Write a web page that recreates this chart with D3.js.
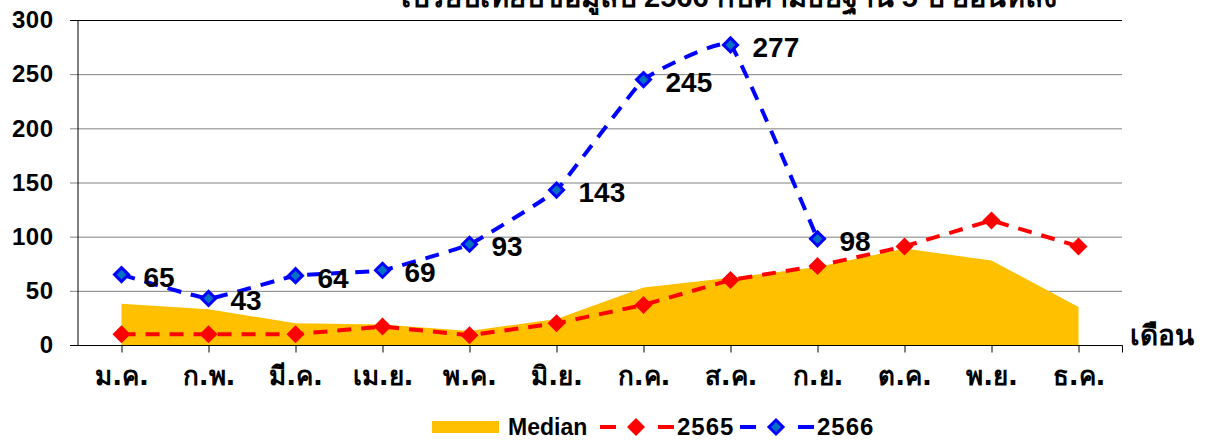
<!DOCTYPE html>
<html>
<head>
<meta charset="utf-8">
<script src="https://cdn.jsdelivr.net/npm/d3@7"></script>
<style>
  body { margin: 0; background: #fff; }
  svg { font-family: Arial, "Liberation Sans", "Noto Sans", sans-serif; font-weight: bold; }
</style>
</head>
<body>
<svg id="chart" width="1211" height="447"></svg>
<script>
var WIDTH = 1211;
var HEIGHT = 447;

var months = ['ม.ค.', 'ก.พ.', 'มี.ค.', 'เม.ย.', 'พ.ค.', 'มิ.ย.', 'ก.ค.', 'ส.ค.', 'ก.ย.', 'ต.ค.', 'พ.ย.', 'ธ.ค.'];
var median = [38, 33, 20, 19, 13, 24, 53, 62, 72, 89, 78, 35];
var y2565 = [10, 10, 10, 17, 9, 20, 37, 60, 73, 91, 115, 91];
var y2566 = [65, 43, 64, 69, 93, 143, 245, 277, 98];
var yTicks = [0, 50, 100, 150, 200, 250, 300];

var title = 'เปรียบเทียบข้อมูลปี 2566 กับค่ามัธยฐาน 5 ปี ย้อนหลัง';

var svg = d3.select('#chart');

var xScale = d3.scalePoint().domain(months).range([78, 1122]).padding(0.5);
var yScale = d3.scaleLinear().domain([0, 300]).range([345, 20]);

// title (its top is cut off in the original too)
svg.append('text')
    .attr('x', 729)
    .attr('y', 7)
    .attr('text-anchor', 'middle')
    .style('font-size', '29px')
    .text(title);

// grid lines
svg.append('g').selectAll('line').data(yTicks).enter()
    .append('line')
    .attr('x1', 70)
    .attr('x2', 1122)
    .attr('y1', function(d){ return yScale(d) + 0.5; })
    .attr('y2', function(d){ return yScale(d) + 0.5; })
    .attr('stroke', function(d){ return d === 300 ? '#000' : '#808080'; })
    .attr('stroke-width', 1);

// y axis
var leftAxis = d3.axisLeft(yScale).tickValues(yTicks).tickSize(0).tickPadding(0);
var yAxis = svg.append('g').attr('transform', 'translate(77.5,0)').call(leftAxis);
yAxis.select('.domain').attr('stroke', '#000');
yAxis.selectAll('text')
    .attr('x', -24)
    .style('font-size', '24px')
    .style('letter-spacing', '0.5px')
    .style('font-family', 'Arial, "Liberation Sans", sans-serif')
    .style('font-weight', 'bold')
    .attr('fill', '#000');

// median area
var area = d3.area()
    .x(function(d, i){ return xScale(months[i]); })
    .y0(yScale(0))
    .y1(function(d){ return yScale(d); });
svg.append('path')
    .datum(median)
    .attr('d', area)
    .attr('fill', '#FFC000');

// x axis
var bottomAxis = d3.axisBottom(xScale).tickSize(7).tickPadding(14);
var xAxis = svg.append('g').attr('transform', 'translate(0,' + (yScale(0) + 0.5) + ')').call(bottomAxis);
xAxis.select('.domain').attr('d', 'M70,0H1122.5V7');
xAxis.selectAll('line').attr('stroke', '#000');
xAxis.selectAll('text')
    .style('font-size', '26px')
    .style('font-family', 'Tahoma, "DejaVu Sans", "Noto Sans", sans-serif')
    .style('font-weight', 'bold')
    .attr('fill', '#000');

svg.append('text')
    .attr('x', 1130)
    .attr('y', 345)
    .style('font-size', '28px')
    .style('font-family', 'Tahoma, "DejaVu Sans", "Noto Sans", sans-serif')
    .text('เดือน');

// series lines
var line = d3.line()
    .x(function(d, i){ return xScale(months[i]); })
    .y(function(d){ return yScale(d); });

var curve = d3.line()
    .x(function(d, i){ return xScale(months[i]); })
    .y(function(d){ return yScale(d); })
    .curve(d3.curveCardinal.tension(0.7));

svg.append('path')
    .datum(y2565)
    .attr('d', line)
    .attr('fill', 'none')
    .attr('stroke', '#FF0000')
    .attr('stroke-width', 4)
    .attr('stroke-dasharray', '14,10');

svg.append('path')
    .datum(y2566)
    .attr('d', curve)
    .attr('fill', 'none')
    .attr('stroke', '#0000FF')
    .attr('stroke-width', 4)
    .attr('stroke-dasharray', '14,10');

var diamond = function(s){
    return 'M0,' + (-s) + 'L' + s + ',0L0,' + s + 'L' + (-s) + ',0Z';
};

svg.append('g').selectAll('path').data(y2565).enter()
    .append('path')
    .attr('d', diamond(9))
    .attr('transform', function(d, i){ return 'translate(' + xScale(months[i]) + ',' + yScale(d) + ')'; })
    .attr('fill', '#FF0000');

svg.append('g').selectAll('path').data(y2566).enter()
    .append('path')
    .attr('d', diamond(7))
    .attr('transform', function(d, i){ return 'translate(' + xScale(months[i]) + ',' + yScale(d) + ')'; })
    .attr('fill', '#0070C0')
    .attr('stroke', '#0000FF')
    .attr('stroke-width', 3);

// data labels for 2566
svg.append('g').selectAll('text').data(y2566).enter()
    .append('text')
    .attr('x', function(d, i){ return xScale(months[i]) + 22; })
    .attr('y', function(d){ return yScale(d) + 12; })
    .style('font-size', '28px')
    .attr('fill', '#000')
    .text(function(d){ return d; });

// legend
var legend = svg.append('g').attr('transform', 'translate(0,427)');
legend.append('rect').attr('x', 432).attr('y', -6).attr('width', 67).attr('height', 12).attr('fill', '#FFC000');
legend.append('text').attr('x', 508).attr('y', 8).style('font-size', '23px').text('Median');

var legendSeries = [
    { x: 600, name: '2565', stroke: '#FF0000', fill: '#FF0000', size: 9 },
    { x: 740, name: '2566', stroke: '#0000FF', fill: '#0070C0', size: 7 }
];
legendSeries.forEach(function(s){
    legend.append('line').attr('x1', s.x).attr('x2', s.x + 16).attr('y1', 0).attr('y2', 0)
        .attr('stroke', s.stroke).attr('stroke-width', 4);
    legend.append('line').attr('x1', s.x + 58).attr('x2', s.x + 74).attr('y1', 0).attr('y2', 0)
        .attr('stroke', s.stroke).attr('stroke-width', 4);
    var m = legend.append('path').attr('d', diamond(s.size))
        .attr('transform', 'translate(' + (s.x + 36) + ',0)')
        .attr('fill', s.fill);
    if (s.fill !== s.stroke) m.attr('stroke', s.stroke).attr('stroke-width', 3);
    legend.append('text').attr('x', s.x + 77).attr('y', 8)
        .style('font-size', '24px').style('letter-spacing', '1px').text(s.name);
});
</script>
</body>
</html>
